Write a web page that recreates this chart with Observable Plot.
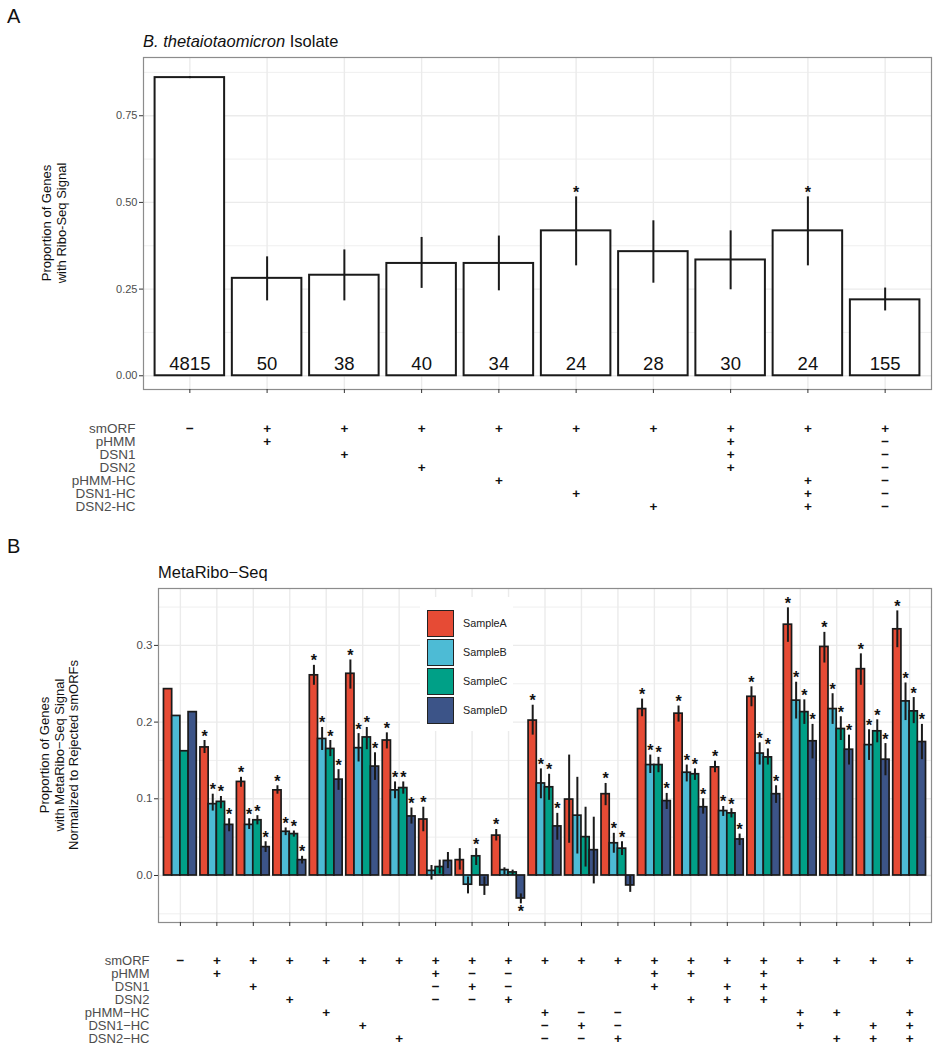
<!DOCTYPE html>
<html><head><meta charset="utf-8">
<script src="https://cdn.jsdelivr.net/npm/d3@7"></script>
<script src="https://cdn.jsdelivr.net/npm/@observablehq/plot@0.6"></script>
<style>
body{margin:0;background:#fff;font-family:"Liberation Sans",Arial,Helvetica,sans-serif;}
#root{position:relative;width:942px;height:1050px;overflow:hidden;background:#fff;}
#root > svg, #root > div{position:absolute;}
.lbl{line-height:1;white-space:pre;color:#111;}
.ytitle{line-height:var(--lh);white-space:pre;text-align:center;color:#111;transform:translate(-50%,-50%) rotate(-90deg);}
.legend{background:#fff;}
.key{position:absolute;width:25px;height:25px;border:1.5px solid #222;}
.keylab{position:absolute;font-size:10.8px;line-height:1;color:#222;}
</style></head><body><div id="root"></div>
<script>
// ---------- Panel A data ----------
const countsA = ["4815","50","38","40","34","24","28","30","24","155"];
const valueA  = [0.860,0.281,0.290,0.324,0.324,0.418,0.358,0.334,0.418,0.219];
const loA     = [0.857,0.216,0.216,0.252,0.245,0.317,0.267,0.248,0.317,0.187];
const hiA     = [0.863,0.343,0.363,0.399,0.403,0.516,0.447,0.418,0.516,0.253];
const starA   = [0,0,0,0,0,1,0,0,1,0];
const yTicksA = [0,0.25,0.5,0.75];
const yMinorA = [0.125,0.375,0.625,0.875];

// matrix rows and columns (one string per column, one char per row)
const rowNames = ["smORF","pHMM","DSN1","DSN2","pHMM-HC","DSN1-HC","DSN2-HC"];
const matrixA = ["-      ","++     ","+ +    ","+  +   ","+   +  ","+    + ","+     +","++++   ","+   +++","+------"];

// ---------- Panel B data ----------
const samples = ["SampleA","SampleB","SampleC","SampleD"];
const sampleColors = ["#E64B35","#4DBBD5","#00A087","#3C5488"];
const valB_A = [0.243,0.167,0.122,0.111,0.261,0.263,0.176,0.073,0.020,0.052,0.202,0.099,0.106,0.217,0.211,0.141,0.233,0.327,0.298,0.269,0.321];
const loB_A  = [null,0.159,0.115,0.106,0.248,0.243,0.165,0.057,0.007,0.045,0.183,0.042,0.091,0.207,0.200,0.134,0.220,0.304,0.277,0.248,0.297];
const hiB_A  = [null,0.176,0.128,0.117,0.274,0.281,0.186,0.089,0.035,0.060,0.222,0.157,0.120,0.230,0.221,0.149,0.246,0.349,0.317,0.289,0.345];
const starB_A= [0,1,1,1,1,1,1,1,0,1,1,0,1,1,1,1,1,1,1,1,1];
const valB_B = [0.208,0.093,0.066,0.057,0.178,0.166,0.111,0.006,-0.012,0.007,0.120,0.078,0.042,0.144,0.134,0.084,0.159,0.228,0.217,0.170,0.227];
const loB_B  = [null,0.084,0.060,0.052,0.163,0.148,0.100,-0.006,-0.024,0.001,0.100,0.028,0.029,0.133,0.122,0.077,0.144,0.204,0.197,0.150,0.202];
const hiB_B  = [null,0.106,0.074,0.062,0.193,0.185,0.122,0.013,-0.002,0.010,0.139,0.128,0.055,0.157,0.144,0.090,0.173,0.252,0.237,0.190,0.251];
const starB_B= [0,1,1,1,1,1,1,0,0,0,1,0,1,1,1,1,1,1,1,1,1];
const valB_C = [0.162,0.096,0.072,0.054,0.165,0.180,0.114,0.011,0.025,0.004,0.115,0.050,0.035,0.144,0.132,0.081,0.154,0.213,0.191,0.188,0.214];
const loB_C  = [null,0.087,0.066,0.050,0.155,0.164,0.106,0.002,0.013,0.000,0.098,0.011,0.026,0.134,0.124,0.075,0.144,0.197,0.176,0.173,0.198];
const hiB_C  = [null,0.103,0.078,0.058,0.176,0.193,0.122,0.020,0.035,0.007,0.132,0.089,0.044,0.154,0.139,0.087,0.165,0.229,0.207,0.203,0.232];
const starB_C= [0,1,1,1,1,1,1,0,1,0,1,0,1,1,1,1,1,1,1,1,1];
const valB_D = [0.213,0.066,0.037,0.020,0.125,0.142,0.077,0.019,-0.013,-0.030,0.064,0.033,-0.013,0.097,0.089,0.047,0.106,0.175,0.164,0.151,0.174];
const loB_D  = [null,0.057,0.030,0.015,0.111,0.124,0.067,0.009,-0.026,-0.037,0.046,-0.011,-0.022,0.086,0.080,0.039,0.094,0.152,0.144,0.130,0.151];
const hiB_D  = [null,0.074,0.044,0.025,0.138,0.160,0.088,0.030,-0.002,-0.024,0.081,0.076,-0.001,0.107,0.100,0.054,0.117,0.197,0.183,0.172,0.197];
const starB_D= [0,1,1,1,1,1,1,0,0,1,1,0,0,1,1,1,1,1,1,1,1];
const yTicksB = [0,0.1,0.2,0.3];
const yMinorB = [-0.05,0.05,0.15,0.25,0.35];
const matrixB = ["-      ","++     ","+ +    ","+  +   ","+   +  ","+    + ","+     +",
  "++--   ","+-+-   ","+--+   ","+   +--","+   -+-","+   --+",
  "+++    ","++ +   ","+ ++   ","++++   ","+   ++ ","+   + +","+    ++","+   +++"];

// ---------- helpers ----------
const FONT = '"Liberation Sans", Arial, Helvetica, sans-serif';
const GRID = "#ebebeb", INK = "#1a1a1a";
const root = document.getElementById("root");
function place(el, left, top){ el.style.left = left + "px"; el.style.top = top + "px"; root.appendChild(el); return el; }
function label(html, left, baseline, fs, extra){
  const d = document.createElement("div"); d.className = "lbl"; d.innerHTML = html;
  d.style.fontSize = fs + "px"; if (extra) Object.assign(d.style, extra);
  return place(d, left, baseline - 0.8465 * fs);
}
function yTitle(text, cx, cy, fs, lh){
  const d = document.createElement("div"); d.className = "ytitle"; d.textContent = text;
  d.style.fontSize = fs + "px"; d.style.setProperty("--lh", lh + "px");
  return place(d, cx, cy);
}
function matrixData(cols){
  const out = [];
  cols.forEach((s, ci) => rowNames.forEach((r, ri) => {
    const ch = s[ri];
    if (ch && ch !== " ") out.push({col: ci + 1, row: r, sign: ch === "+" ? "+" : "\u2212"});
  }));
  return out;
}

// ---------- Panel A ----------
const nA = countsA.length;
const dataA = countsA.map((c, i) => ({i: i + 1, count: c, value: valueA[i], lo: loA[i], hi: hiA[i], star: starA[i]}));
const plotA = Plot.plot({
  width: 942, height: 400,
  marginLeft: 143, marginRight: 11, marginTop: 57, marginBottom: 11,
  x: {domain: [0.4, nA + 0.6]},
  y: {domain: [-0.0396, 0.918]},
  style: {fontFamily: FONT, background: "transparent", overflow: "visible"},
  marks: [
    Plot.ruleY(yMinorA, {stroke: GRID, strokeWidth: 0.8}),
    Plot.ruleY(yTicksA, {stroke: GRID, strokeWidth: 1.4}),
    Plot.ruleX(d3.range(1, nA + 1), {stroke: GRID, strokeWidth: 1.4}),
    Plot.rectY(dataA, {x1: d => d.i - 0.45, x2: d => d.i + 0.45, y1: 0, y2: "value", fill: "white", stroke: INK, strokeWidth: 2}),
    Plot.ruleX(dataA, {x: "i", y1: "lo", y2: "hi", stroke: INK, strokeWidth: 2}),
    Plot.text(dataA, {x: "i", y: 0, text: "count", dy: -6, lineAnchor: "bottom", fontSize: 18.5, fill: "#111"}),
    Plot.text(dataA.filter(d => d.star), {x: "i", y: "hi", text: () => "*", lineAnchor: "bottom", dy: 1, fontSize: 16, fontWeight: "bold", fill: "#111"}),
    Plot.frame({stroke: "#8c8c8c", strokeWidth: 1.2}),
    Plot.axisY({ticks: yTicksA, tickFormat: d3.format(".2f"), tickSize: 4, tickPadding: 2, fontSize: 11, fill: "#4d4d4d", stroke: "#333", label: null}),
    Plot.axisX({ticks: d3.range(1, nA + 1), tickSize: 4, tickFormat: () => "", stroke: "#333", label: null})
  ]
});
place(plotA, 0, 0);

const plotMA = Plot.plot({
  width: 942, height: 106,
  marginLeft: 143, marginRight: 11, marginTop: 8, marginBottom: 5,
  x: {domain: [0.4, nA + 0.6], axis: null},
  y: {domain: rowNames, axis: null},
  style: {fontFamily: FONT, background: "transparent", overflow: "visible"},
  marks: [
    Plot.axisY({tickSize: 0, tickPadding: 8, fontSize: 13.5, fill: "#4d4d4d", label: null}),
    Plot.text(matrixData(matrixA), {x: "col", y: "row", text: "sign", fontSize: 13.5, fontWeight: "bold", fill: "#111"})
  ]
});
place(plotMA, 0, 412);

// ---------- Panel B ----------
const nB = valB_A.length;
const bSeries = [[valB_A, loB_A, hiB_A, starB_A],[valB_B, loB_B, hiB_B, starB_B],[valB_C, loB_C, hiB_C, starB_C],[valB_D, loB_D, hiB_D, starB_D]];
const dataB = [];
for (let g = 0; g < nB; g++) {
  bSeries.forEach(([v, lo, hi, st], s) => {
    const x1 = (g + 1) - 0.45 + s * 0.225;
    dataB.push({group: g + 1, sample: samples[s], x1, x2: x1 + 0.225, xm: x1 + 0.1125, value: v[g], lo: lo[g], hi: hi[g], star: st[g]});
  });
}
const plotB = Plot.plot({
  width: 942, height: 392,
  marginLeft: 158, marginRight: 11, marginTop: 48, marginBottom: 10,
  x: {domain: [0.4, nB + 0.6]},
  y: {domain: [-0.0613, 0.3742]},
  color: {domain: samples, range: sampleColors},
  style: {fontFamily: FONT, background: "transparent", overflow: "visible"},
  marks: [
    Plot.ruleY(yMinorB, {stroke: GRID, strokeWidth: 0.8}),
    Plot.ruleY(yTicksB, {stroke: GRID, strokeWidth: 1.4}),
    Plot.ruleX(d3.range(1, nB + 1), {stroke: GRID, strokeWidth: 1.4}),
    Plot.rectY(dataB, {x1: "x1", x2: "x2", y1: 0, y2: "value", fill: "sample", stroke: INK, strokeWidth: 1.7}),
    Plot.ruleX(dataB.filter(d => d.lo != null), {x: "xm", y1: "lo", y2: "hi", stroke: INK, strokeWidth: 2}),
    Plot.text(dataB.filter(d => d.star && d.value >= 0), {x: "xm", y: "hi", text: () => "*", lineAnchor: "bottom", dy: 1, fontSize: 16, fontWeight: "bold", fill: "#111"}),
    Plot.text(dataB.filter(d => d.star && d.value < 0), {x: "xm", y: "lo", text: () => "*", lineAnchor: "bottom", dy: 13, fontSize: 16, fontWeight: "bold", fill: "#111"}),
    Plot.frame({stroke: "#8c8c8c", strokeWidth: 1.2}),
    Plot.axisY({ticks: yTicksB, tickFormat: d3.format(".1f"), tickSize: 4, tickPadding: 2, fontSize: 11.5, fill: "#4d4d4d", stroke: "#333", label: null}),
    Plot.axisX({ticks: d3.range(1, nB + 1), tickSize: 4, tickFormat: () => "", stroke: "#333", label: null})
  ]
});
place(plotB, 0, 540);

const plotMB = Plot.plot({
  width: 942, height: 106,
  marginLeft: 158, marginRight: 11, marginTop: 9, marginBottom: 6,
  x: {domain: [0.4, nB + 0.6], axis: null},
  y: {domain: rowNames, axis: null},
  style: {fontFamily: FONT, background: "transparent", overflow: "visible"},
  marks: [
    Plot.axisY({tickSize: 0, tickPadding: 9, fontSize: 13, fill: "#4d4d4d", label: null, tickFormat: d => d.replace("-", "\u2212")}),
    Plot.text(matrixData(matrixB), {x: "col", y: "row", text: "sign", fontSize: 13.5, fontWeight: "bold", fill: "#111"})
  ]
});
place(plotMB, 0, 944);

// ---------- text annotations ----------
label("A", 7, 23, 20);
label("<i>B. thetaiotaomicron</i> Isolate", 143, 46.7, 16.5);
yTitle("Proportion of Genes\nwith Ribo-Seq Signal", 53.5, 223, 13, 15);
label("B", 7, 553.3, 20);
label("MetaRibo\u2212Seq", 158, 578.3, 16.5);
yTitle("Proportion of Genes\nwith MetaRibo\u2212Seq Signal\nNormalized to Rejected smORFs", 60, 755, 13, 14.5);

// ---------- legend ----------
const leg = document.createElement("div");
leg.className = "legend"; leg.style.width = "93px"; leg.style.height = "134px";
place(leg, 420, 597);
samples.forEach((s, i) => {
  const k = document.createElement("div"); k.className = "key";
  k.style.background = sampleColors[i]; k.style.left = "7px"; k.style.top = (13 + i * 29) + "px";
  leg.appendChild(k);
  const t = document.createElement("div"); t.className = "keylab"; t.textContent = s;
  t.style.left = "43px"; t.style.top = (21 + i * 29) + "px";
  leg.appendChild(t);
});
</script></body></html>
